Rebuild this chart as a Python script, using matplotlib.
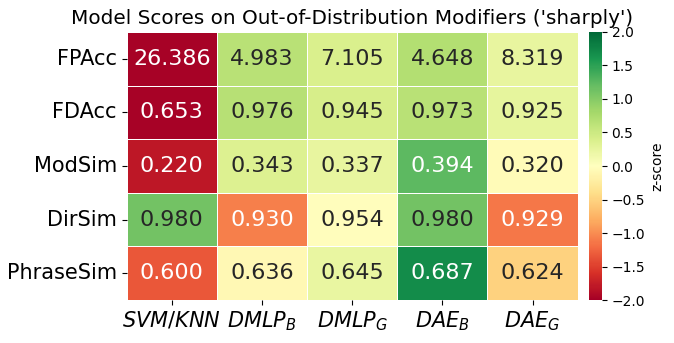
import numpy as np
import matplotlib
matplotlib.use('Agg')
import matplotlib.pyplot as plt
import seaborn as sns

models = ['$SVM/KNN$', '$DMLP_B$', '$DMLP_G$', '$DAE_B$', '$DAE_G$']
metrics = ['FPAcc', 'FDAcc', 'ModSim', 'DirSim', 'PhraseSim']

fpacc = [26.386, 4.983, 7.105, 4.648, 8.319]
fdacc = [0.653, 0.976, 0.945, 0.973, 0.925]
modsim = [0.220, 0.343, 0.337, 0.394, 0.320]
dirsim = [0.980, 0.930, 0.954, 0.980, 0.929]
phrasesim = [0.600, 0.636, 0.645, 0.687, 0.624]
lower_is_better = [True, False, False, False, False]

raw = np.array([fpacc, fdacc, modsim, dirsim, phrasesim])

# row-wise z-score, flipped for metrics where lower is better
z = (raw - raw.mean(axis=1, keepdims=True)) / raw.std(axis=1, keepdims=True)
for i, flip in enumerate(lower_is_better):
    if flip:
        z[i] = -z[i]

fig = plt.figure(figsize=(6.74, 3.43), dpi=100)
ax = fig.add_axes([0.188, 0.125, 0.669, 0.782])
cax = fig.add_axes([0.874, 0.125, 0.019, 0.782])

sns.heatmap(z, ax=ax, cbar_ax=cax, cmap='RdYlGn', vmin=-2, vmax=2,
            annot=raw, fmt='.3f', annot_kws={'fontsize': 16},
            linewidths=0.5, linecolor='white',
            xticklabels=models, yticklabels=metrics,
            cbar_kws={'label': 'z-score'})

ax.set_title("Model Scores on Out-of-Distribution Modifiers ('sharply')", fontsize=14.4)
ax.tick_params(axis='x', labelsize=15, rotation=0)
ax.tick_params(axis='y', labelsize=15, rotation=0)
cax.tick_params(labelsize=10)
cax.yaxis.label.set_size(10)

plt.savefig('out.png', dpi=100)
